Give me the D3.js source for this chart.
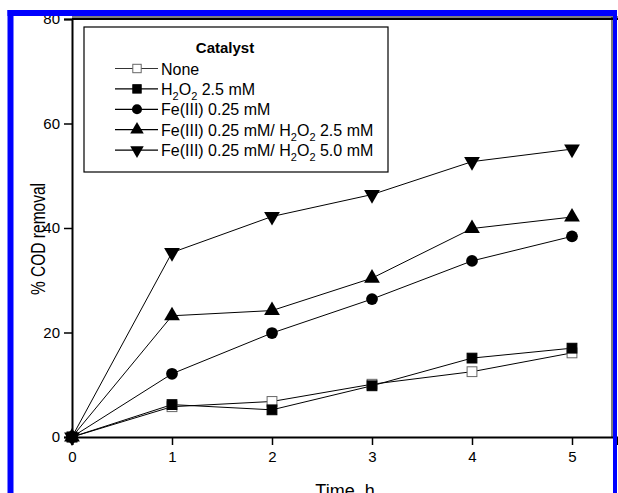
<!DOCTYPE html>
<html>
<head>
<meta charset="utf-8">
<script src="https://cdn.jsdelivr.net/npm/d3@7"></script>
<style>
  body { margin: 0; background: #fff; }
  svg { display: block; font-family: "Liberation Sans", Arial, sans-serif; }
</style>
</head>
<body>
<div class="cod-chart"></div>
<script>
// time points (h)
const hours = [0, 1, 2, 3, 4, 5];

// % COD removal per catalyst
const noneVals = [0, 5.8, 6.8, 10.1, 12.5, 16.1];
const h2o2Vals = [0, 6.2, 5.2, 9.8, 15.1, 17.0];
const feVals = [0, 12.1, 19.9, 26.4, 33.7, 38.4];
const feH2o2LowVals = [0, 23.2, 24.2, 30.4, 39.9, 42.1];
const feH2o2HighVals = [0, 35.3, 42.2, 46.4, 52.7, 55.1];

const xTicks = [0, 1, 2, 3, 4, 5];
const yTicks = [0, 20, 40, 60, 80];

// legend labels, parts marked sub are subscripts
const seriesLabels = [
  [{ t: 'None' }],
  [{ t: 'H' }, { t: '2', sub: true }, { t: 'O' }, { t: '2', sub: true }, { t: ' 2.5 mM' }],
  [{ t: 'Fe(III) 0.25 mM' }],
  [{ t: 'Fe(III) 0.25 mM/ H' }, { t: '2', sub: true }, { t: 'O' }, { t: '2', sub: true }, { t: ' 2.5 mM' }],
  [{ t: 'Fe(III) 0.25 mM/ H' }, { t: '2', sub: true }, { t: 'O' }, { t: '2', sub: true }, { t: ' 5.0 mM' }]
];
const seriesMarkers = ['openSquare', 'square', 'circle', 'triangleUp', 'triangleDown'];
const seriesValues = [noneVals, h2o2Vals, feVals, feH2o2LowVals, feH2o2HighVals];

const width = 618;
const height = 493;

const svg = d3.select('.cod-chart')
  .append('svg')
  .attr('width', width)
  .attr('height', height);

svg.append('rect').attr('width', width).attr('height', height).attr('fill', '#fff');

const x = d3.scaleLinear().domain([0, 5.45]).range([72, 617]);
const y = d3.scaleLinear().domain([0, 80]).range([437, 19]);

// marker drawing
function drawMarker(g, type, size) {
  if (type === 'openSquare' || type === 'square') {
    const s = size * 0.7;
    g.append('rect')
      .attr('x', -s / 2).attr('y', -s / 2)
      .attr('width', s).attr('height', s)
      .attr('fill', type === 'square' ? '#000' : '#fff')
      .attr('stroke', type === 'square' ? '#000' : '#666')
      .attr('stroke-width', 1);
  } else if (type === 'circle') {
    g.append('circle').attr('r', size * 0.42).attr('fill', '#000');
  } else {
    const sym = d3.symbol().type(d3.symbolTriangle).size(size * size * 0.55);
    g.append('path')
      .attr('d', sym())
      .attr('transform', type === 'triangleDown' ? 'rotate(180)' : null)
      .attr('fill', '#000');
  }
}

const fontFam = '"Liberation Sans", Arial, sans-serif';

// axes
const xAxisGroup = svg.append('g').attr('transform', `translate(0, ${y(0)})`);
xAxisGroup.call(d3.axisBottom(x).tickValues(d3.range(0.5, 5.5, 1)).tickSize(5).tickFormat(''));
xAxisGroup.call(d3.axisBottom(x).tickValues(xTicks).tickSize(8).tickPadding(6).tickFormat(d3.format('d')));
xAxisGroup.selectAll('.domain').attr('stroke-width', 2);
xAxisGroup.selectAll('.tick line').attr('stroke-width', 1.5);
xAxisGroup.selectAll('text').attr('font-size', 15).attr('fill', '#000').attr('font-family', fontFam);

const yAxisGroup = svg.append('g').attr('transform', `translate(${x(0)}, 0)`);
yAxisGroup.call(d3.axisLeft(y).tickValues([10, 30, 50, 70]).tickSize(5).tickFormat(''));
yAxisGroup.call(d3.axisLeft(y).tickValues(yTicks).tickSize(8).tickPadding(4).tickFormat(d3.format('d')));
yAxisGroup.selectAll('.domain').attr('stroke-width', 2);
yAxisGroup.selectAll('.tick line').attr('stroke-width', 1.5);
yAxisGroup.selectAll('text').attr('font-size', 15).attr('fill', '#000').attr('font-family', fontFam);

// top and right frame
svg.append('line').attr('x1', x(0)).attr('x2', width).attr('y1', y(80)).attr('y2', y(80))
  .attr('stroke', '#000').attr('stroke-width', 2);
svg.append('line').attr('x1', x(0)).attr('x2', width).attr('y1', 17).attr('y2', 17)
  .attr('stroke', '#000').attr('stroke-width', 1);
svg.append('line').attr('x1', 612).attr('x2', 612).attr('y1', 17).attr('y2', y(0))
  .attr('stroke', '#000').attr('stroke-width', 1);

// axis titles
svg.append('text')
  .attr('transform', 'translate(45, 239) rotate(-90)')
  .attr('text-anchor', 'middle')
  .attr('font-size', 20)
  .attr('textLength', 112)
  .attr('lengthAdjust', 'spacingAndGlyphs')
  .text('% COD removal');

svg.append('text')
  .attr('x', 345)
  .attr('y', 497)
  .attr('text-anchor', 'middle')
  .attr('font-size', 18)
  .text('Time, h');

// series lines and markers
const line = d3.line().x((d, i) => x(hours[i])).y(d => y(d));
const plot = svg.append('g');

seriesValues.forEach(vals => {
  plot.append('path')
    .attr('d', line(vals))
    .attr('fill', 'none')
    .attr('stroke', '#000')
    .attr('stroke-width', 1);
});
seriesValues.forEach((vals, k) => {
  vals.forEach((v, i) => {
    const g = plot.append('g').attr('transform', `translate(${x(hours[i])}, ${y(v)})`);
    drawMarker(g, seriesMarkers[k], 14);
  });
});

// legend
const legend = svg.append('g');
legend.append('rect')
  .attr('x', 84).attr('y', 27).attr('width', 304).attr('height', 145)
  .attr('fill', '#fff').attr('stroke', '#000').attr('stroke-width', 1.2);
legend.append('text')
  .attr('x', 225).attr('y', 53)
  .attr('text-anchor', 'middle')
  .attr('font-size', 15).attr('font-weight', 'bold')
  .text('Catalyst');

seriesLabels.forEach((parts, k) => {
  const cy = 68.5 + k * 20.4;
  const row = legend.append('g').attr('transform', `translate(0, ${cy})`);
  row.append('line').attr('x1', 115).attr('x2', 158).attr('y1', 0).attr('y2', 0)
    .attr('stroke', '#000').attr('stroke-width', k === 0 ? 0.8 : 1.3);
  drawMarker(row.append('g').attr('transform', 'translate(137, 0)'), seriesMarkers[k], 12);
  const t = row.append('text').attr('x', 161).attr('y', 6).attr('font-size', 16);
  let shift = 0;
  parts.forEach(p => {
    if (p.sub) {
      t.append('tspan').attr('font-size', 11).attr('dy', 5 - shift).text(p.t);
      shift = 5;
    } else {
      t.append('tspan').attr('dy', -shift).text(p.t);
      shift = 0;
    }
  });
});

// blue frame
svg.append('line').attr('x1', 10.5).attr('x2', 10.5).attr('y1', 10).attr('y2', height)
  .attr('stroke', '#0000ff').attr('stroke-width', 6);
svg.append('line').attr('x1', 7.5).attr('x2', 617).attr('y1', 13).attr('y2', 13)
  .attr('stroke', '#0000ff').attr('stroke-width', 6);
svg.append('line').attr('x1', 615).attr('x2', 615).attr('y1', 10).attr('y2', height)
  .attr('stroke', '#0000ff').attr('stroke-width', 4);
</script>
</body>
</html>
